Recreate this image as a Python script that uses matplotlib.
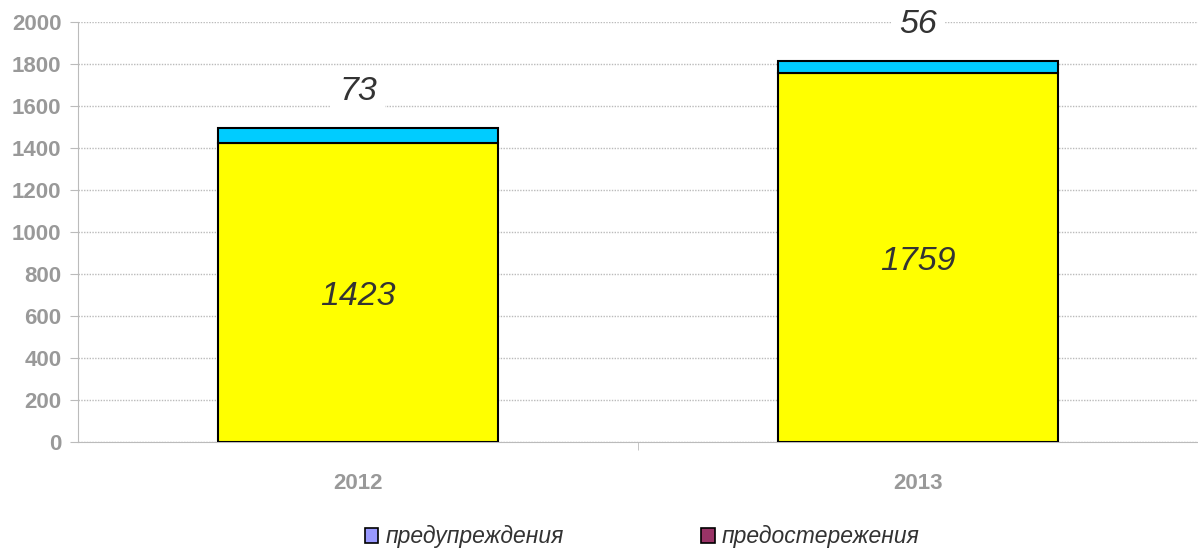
import matplotlib
matplotlib.use("Agg")
import matplotlib.pyplot as plt
from matplotlib.patches import Patch
import numpy as np

categories = ["2012", "2013"]
base_values = [1423, 1759]
top_values = [73, 56]
legend_labels = ["предупреждения", "предостережения"]
legend_colors = ["#9999FF", "#993366"]
yticks = [0, 200, 400, 600, 800, 1000, 1200, 1400, 1600, 1800, 2000]

plt.rcParams['font.family'] = ['Liberation Sans', 'DejaVu Sans']

fig = plt.figure(figsize=(11.98, 5.52), dpi=100)
ax = fig.add_axes([78/1198, 1 - 442/552, 1120/1198, 420/552])

x = np.arange(len(categories))
ax.bar(x, base_values, width=0.5, color="#FFFF00", edgecolor="black", linewidth=1.5, zorder=3)
ax.bar(x, top_values, width=0.5, bottom=base_values, color="#00CCFF", edgecolor="black", linewidth=1.5, zorder=3)

ax.set_xlim(-0.5, 1.5)
ax.set_ylim(0, 2000)
ax.set_yticks(yticks)
ax.set_yticklabels([str(t) for t in yticks], fontsize=16, fontweight="bold", color="#999999")
ax.set_xticks(x)
ax.set_xticklabels(categories, fontsize=16, fontweight="bold", color="#999999")
ax.tick_params(axis="x", length=0, pad=22)
ax.set_xticks([0.5], minor=True)
ax.tick_params(axis="x", which="minor", length=6, color="#BBBBBB", direction="out")
ax.tick_params(axis="y", length=6, color="#BBBBBB", direction="out", pad=6)

ax.yaxis.grid(True, linestyle=(0, (1, 1)), color="#BBBBBB", linewidth=1, zorder=0)
ax.set_axisbelow(True)
for s in ["top", "right"]:
    ax.spines[s].set_visible(False)
ax.spines["left"].set_color("#BBBBBB")
ax.spines["bottom"].set_color("#BBBBBB")
ax.spines["bottom"].set_linestyle((0, (1, 1)))

# labels inside yellow
for i, v in enumerate(base_values):
    ax.text(x[i], v / 2 - 20, str(v), ha="center", va="center",
            fontsize=24.5, fontstyle="italic", color="#333333", zorder=5)

# top labels above bars
for i, (b, t) in enumerate(zip(base_values, top_values)):
    ax.text(x[i], b + t + 175, str(t), ha="center", va="center",
            fontsize=24.5, fontstyle="italic", color="#333333", zorder=5, clip_on=False,
            bbox=dict(facecolor="white", edgecolor="none", pad=6))

handles = [Patch(facecolor=c, edgecolor="black", linewidth=1.2) for c in legend_colors]
leg = fig.legend(handles, legend_labels, loc="center", bbox_to_anchor=(0.536, 1 - 537/552),
                 ncol=2, frameon=False, handlelength=0.6, handleheight=0.6,
                 columnspacing=6.0, handletextpad=0.3,
                 prop=dict(size=16.5, style="italic"))
for t in leg.get_texts():
    t.set_color("#333333")

fig.savefig("out.png", dpi=100)
